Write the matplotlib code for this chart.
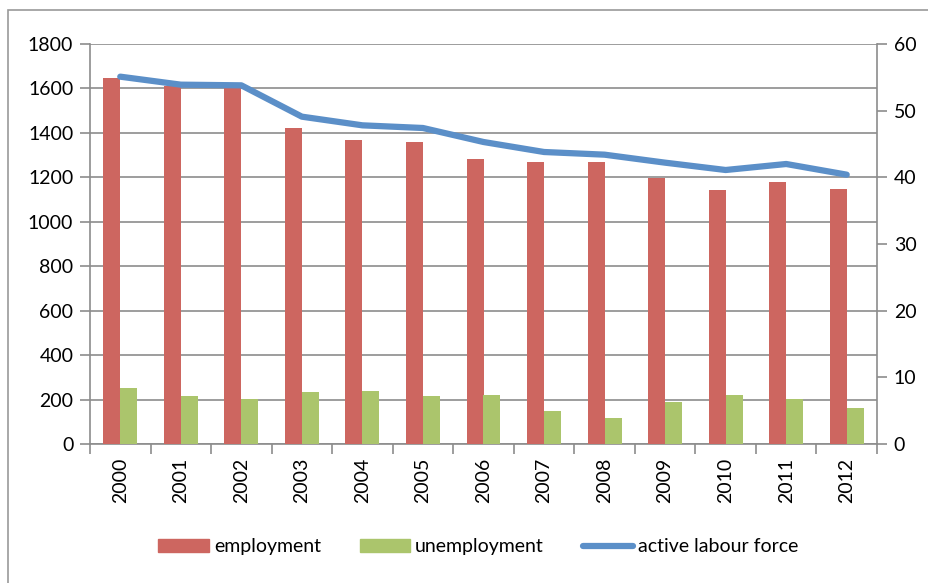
import matplotlib.pyplot as plt
import numpy as np
from matplotlib.patches import Rectangle
from matplotlib.lines import Line2D

plt.rcParams['font.family'] = ['Lato', 'DejaVu Sans']

years = ["2000", "2001", "2002", "2003", "2004", "2005", "2006",
         "2007", "2008", "2009", "2010", "2011", "2012"]
employment = [1645, 1610, 1600, 1421, 1370, 1361, 1283, 1271, 1271, 1198, 1142, 1180, 1148]
unemployment = [254, 215, 201, 233, 240, 215, 219, 150, 119, 189, 219, 201, 164]
active_labour_force = [55.1, 53.9, 53.8, 49.1, 47.8, 47.4, 45.3, 43.8, 43.4, 42.2, 41.1, 42.0, 40.4]

RED = "#CD6660"
GREEN = "#ABC56C"
BLUE = "#5B8FC8"
GRID = "#8C8C8C"
FS = 14

fig = plt.figure(figsize=(9.29, 5.83), dpi=100)
# outer chart frame (runs off the right/bottom of the picture)
fig.patches.append(Rectangle((8 / 929, -0.1), 1.2, 1 - 10 / 583 + 0.1,
                             transform=fig.transFigure, fill=False,
                             edgecolor="#9A9A9A", linewidth=1.2))

ax = fig.add_axes([90 / 929, 1 - 444 / 583, 787 / 929, 400 / 583])
x = np.arange(len(years))
w = 0.28
ax.bar(x - w / 2, employment, w, color=RED, zorder=3)
ax.bar(x + w / 2, unemployment, w, color=GREEN, zorder=3)

ax.set_xlim(-0.5, len(years) - 0.5)
ax.set_ylim(0, 1800)
ax.set_yticks(np.arange(0, 1801, 200))
ax.yaxis.grid(True, color=GRID, linewidth=1.2, zorder=0)
ax.set_axisbelow(True)

ax.set_xticks(x)
ax.set_xticklabels(years, rotation=90)
ax.set_xticks(np.arange(-0.5, len(years), 1), minor=True)
ax.tick_params(axis="x", which="major", length=0, pad=10, labelsize=FS)
ax.tick_params(axis="x", which="minor", length=7, width=1.2, color=GRID)
ax.tick_params(axis="y", length=7, width=1.2, color=GRID, labelsize=FS, pad=5)

for s in ["top", "right"]:
    ax.spines[s].set_visible(False)
for s in ["left", "bottom"]:
    ax.spines[s].set_color(GRID)
    ax.spines[s].set_linewidth(1.2)

ax2 = ax.twinx()
ax2.plot(x, active_labour_force, color=BLUE, linewidth=4.5,
         solid_capstyle="round", zorder=4)
ax2.set_ylim(0, 60)
ax2.set_yticks(np.arange(0, 61, 10))
ax2.tick_params(axis="y", length=7, width=1.2, color=GRID, labelsize=FS, pad=5)
for s in ["top", "left", "bottom"]:
    ax2.spines[s].set_visible(False)
ax2.spines["right"].set_color(GRID)
ax2.spines["right"].set_linewidth(1.2)

handles = [Rectangle((0, 0), 1, 1, color=RED),
           Rectangle((0, 0), 1, 1, color=GREEN),
           Line2D([0], [0], color=BLUE, linewidth=4.5, solid_capstyle="round")]
fig.legend(handles, ["employment", "unemployment", "active labour force"],
           loc="center", bbox_to_anchor=(0.515, 0.062), ncol=3, frameon=False,
           fontsize=FS, handlelength=2.6, handleheight=0.6, handletextpad=0.25,
           columnspacing=2.0)

fig.savefig("out.png", dpi=100)
